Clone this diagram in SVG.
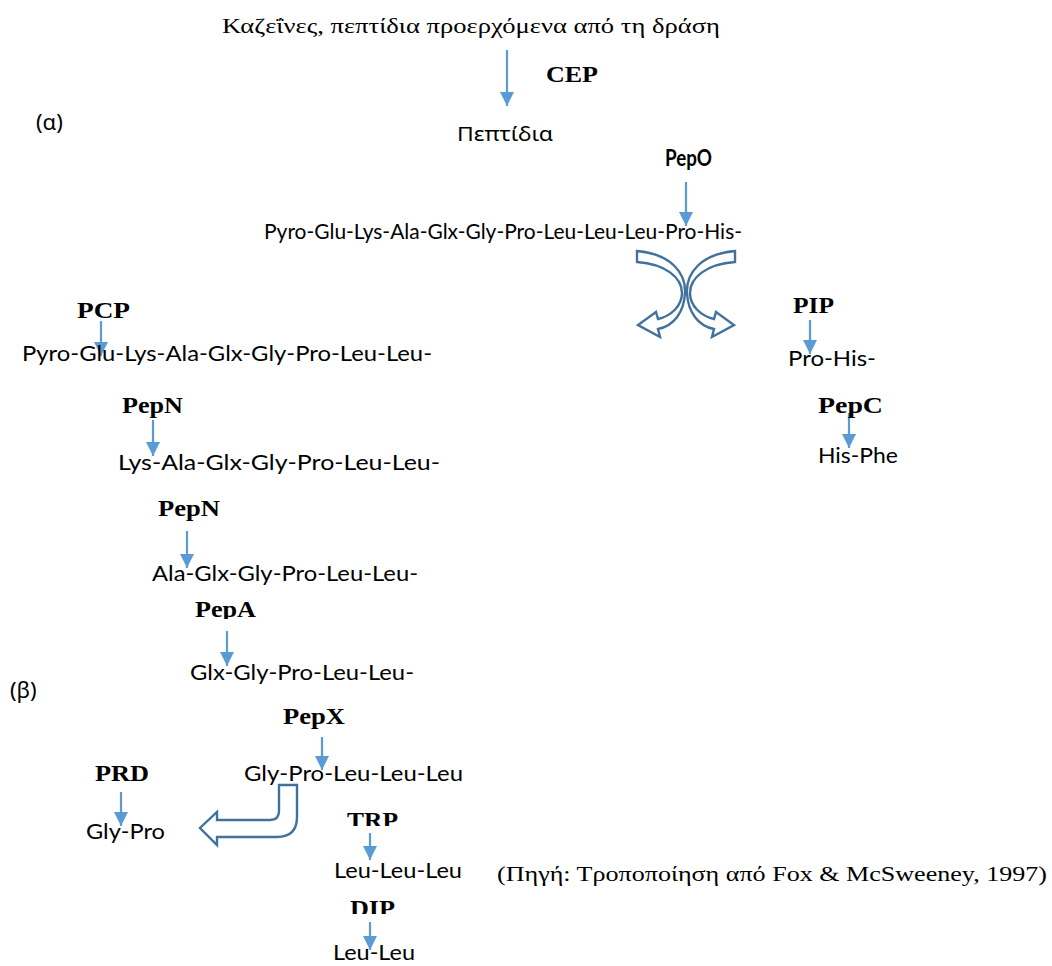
<svg xmlns="http://www.w3.org/2000/svg" width="1052" height="966" viewBox="0 0 1052 966">
  <defs>
    <style>
      .serif { font-family: "Liberation Serif", "Times New Roman", serif; font-size: 22px; fill: #000; }
      .lbl { font-family: "Liberation Serif", "Times New Roman", serif; font-size: 24px; font-weight: bold; fill: #000; }
      .seq { font-family: Lato, "Open Sans", sans-serif; font-size: 22px; fill: #000; }
      .greek { font-family: "Noto Sans", "Open Sans", sans-serif; font-size: 20px; fill: #000; }
      .tag { font-family: "Noto Sans", "Open Sans", sans-serif; font-size: 22px; fill: #000; }
      .bsans { font-family: Lato, "Open Sans", sans-serif; font-size: 22px; font-weight: bold; fill: #000; }
      .arrow { stroke: #5B9BD5; stroke-width: 2.2; fill: none; marker-end: url(#head); }
      .block { fill: #fff; stroke: #41719C; stroke-width: 2.4; stroke-linejoin: miter; }
    </style>
    <marker id="head" viewBox="0 0 14 14" refX="14" refY="7" markerWidth="14" markerHeight="14" markerUnits="userSpaceOnUse" orient="auto">
      <path d="M0,0 L14,7 L0,14 Z" fill="#5B9BD5"/>
    </marker>
    <clipPath id="clipPepA"><rect x="180" y="590" width="100" height="29"/></clipPath>
    <clipPath id="clipTRP"><rect x="330" y="800" width="90" height="26"/></clipPath>
    <clipPath id="clipDIP"><rect x="330" y="888" width="90" height="26"/></clipPath>
  </defs>

  <!-- connectors: enzyme cleavage arrows and block arrows -->
  <g id="connectors">
    <line class="arrow" x1="507" y1="50" x2="507" y2="106"/>
    <line class="arrow" x1="686" y1="182" x2="686" y2="226"/>
    <line class="arrow" x1="101" y1="321" x2="101" y2="356"/>
    <line class="arrow" x1="153" y1="420" x2="153" y2="456"/>
    <line class="arrow" x1="187" y1="531" x2="187" y2="568"/>
    <line class="arrow" x1="227" y1="631" x2="227" y2="666"/>
    <line class="arrow" x1="322" y1="737" x2="322" y2="770"/>
    <line class="arrow" x1="121" y1="792" x2="121" y2="826"/>
    <line class="arrow" x1="370" y1="833" x2="370" y2="860"/>
    <line class="arrow" x1="370" y1="922" x2="370" y2="950"/>
    <line class="arrow" x1="810" y1="320" x2="810" y2="354"/>
    <line class="arrow" x1="849" y1="413" x2="849" y2="448"/>

    <!-- split of the PepO product: two curved block arrows -->
    <path id="curve-left" class="block" d="M637,251 C672,254 686,274 685,293 C684,312 674,326 658,329 L660,337 L638,325 L656,312 L658,319 C671,316 682,306 682,293 C682,278 666,264 637,262 Z"/>
    <path id="curve-right" class="block" transform="translate(1372,0) scale(-1,1)" d="M637,251 C672,254 686,274 685,293 C684,312 674,326 658,329 L660,337 L638,325 L656,312 L658,319 C671,316 682,306 682,293 C682,278 666,264 637,262 Z"/>

    <!-- PepX release of Gly-Pro -->
    <path id="hook" class="block" d="M279,785 L297,785 L297,817 Q297,837 277,837 L217,837 L217,845 L200,828 L217,812 L217,820 L270,820 Q279,820 279,811 Z"/>
  </g>

  <g id="n-source"><text class="serif" x="222" y="33" textLength="498" lengthAdjust="spacingAndGlyphs">Καζεΐνες, πεπτίδια προερχόμενα από τη δράση</text></g>
  <g id="n-cep"><text class="lbl" x="546" y="82" textLength="52" lengthAdjust="spacingAndGlyphs">CEP</text></g>
  <g id="n-alpha"><text class="tag" x="36" y="130">(α)</text></g>
  <g id="n-peptides"><text class="greek" x="457" y="141" textLength="96" lengthAdjust="spacingAndGlyphs">Πεπτίδια</text></g>
  <g id="n-pepo"><text class="bsans" x="665" y="166" textLength="47" lengthAdjust="spacingAndGlyphs">PepO</text></g>
  <g id="n-full"><text class="seq" x="264" y="239" textLength="478" lengthAdjust="spacingAndGlyphs">Pyro-Glu-Lys-Ala-Glx-Gly-Pro-Leu-Leu-Leu-Pro-His-</text></g>

  <g id="n-pcp"><text class="lbl" x="77" y="318" textLength="53" lengthAdjust="spacingAndGlyphs">PCP</text></g>
  <g id="n-pyro"><text class="seq" x="22" y="361" textLength="410" lengthAdjust="spacingAndGlyphs">Pyro-Glu-Lys-Ala-Glx-Gly-Pro-Leu-Leu-</text></g>
  <g id="n-pepn1"><text class="lbl" x="122" y="413" textLength="61" lengthAdjust="spacingAndGlyphs">PepN</text></g>
  <g id="n-lys"><text class="seq" x="118" y="470" textLength="322" lengthAdjust="spacingAndGlyphs">Lys-Ala-Glx-Gly-Pro-Leu-Leu-</text></g>
  <g id="n-pepn2"><text class="lbl" x="158" y="516" textLength="62" lengthAdjust="spacingAndGlyphs">PepN</text></g>
  <g id="n-ala"><text class="seq" x="152" y="581" textLength="266" lengthAdjust="spacingAndGlyphs">Ala-Glx-Gly-Pro-Leu-Leu-</text></g>
  <g id="n-pepa" clip-path="url(#clipPepA)"><text class="lbl" x="195" y="617" textLength="61" lengthAdjust="spacingAndGlyphs">PepA</text></g>
  <g id="n-glx"><text class="seq" x="190" y="680" textLength="224" lengthAdjust="spacingAndGlyphs">Glx-Gly-Pro-Leu-Leu-</text></g>
  <g id="n-beta"><text class="tag" x="10" y="698">(β)</text></g>
  <g id="n-pepx"><text class="lbl" x="283" y="724" textLength="62" lengthAdjust="spacingAndGlyphs">PepX</text></g>
  <g id="n-gly"><text class="seq" x="244" y="781" textLength="219" lengthAdjust="spacingAndGlyphs">Gly-Pro-Leu-Leu-Leu</text></g>
  <g id="n-prd"><text class="lbl" x="95" y="781" textLength="54" lengthAdjust="spacingAndGlyphs">PRD</text></g>
  <g id="n-glypro"><text class="seq" x="86" y="839" textLength="79" lengthAdjust="spacingAndGlyphs">Gly-Pro</text></g>
  <g id="n-trp" clip-path="url(#clipTRP)"><text class="lbl" x="347" y="828" textLength="51" lengthAdjust="spacingAndGlyphs">TRP</text></g>
  <g id="n-leu3"><text class="seq" x="334" y="878" textLength="128" lengthAdjust="spacingAndGlyphs">Leu-Leu-Leu</text></g>
  <g id="n-dip" clip-path="url(#clipDIP)"><text class="lbl" x="350" y="916" textLength="45" lengthAdjust="spacingAndGlyphs">DIP</text></g>
  <g id="n-leu2"><text class="seq" x="333" y="960" textLength="82" lengthAdjust="spacingAndGlyphs">Leu-Leu</text></g>

  <g id="n-pip"><text class="lbl" x="793" y="313" textLength="41" lengthAdjust="spacingAndGlyphs">PIP</text></g>
  <g id="n-prohis"><text class="seq" x="788" y="366" textLength="88" lengthAdjust="spacingAndGlyphs">Pro-His-</text></g>
  <g id="n-pepc"><text class="lbl" x="818" y="413" textLength="65" lengthAdjust="spacingAndGlyphs">PepC</text></g>
  <g id="n-hisphe"><text class="seq" x="818" y="463" textLength="80" lengthAdjust="spacingAndGlyphs">His-Phe</text></g>

  <g id="n-ref"><text class="serif" x="497" y="881" textLength="550" lengthAdjust="spacingAndGlyphs">(Πηγή: Τροποποίηση από Fox &amp; McSweeney, 1997)</text></g>
</svg>
